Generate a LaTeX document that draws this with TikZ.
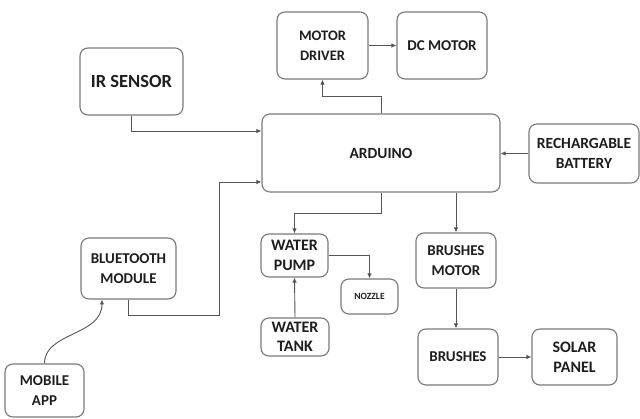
\documentclass[tikz,border=0pt]{standalone}
\usepackage{fontspec}
\setmainfont{Carlito}
\usetikzlibrary{arrows.meta}
\definecolor{boxline}{HTML}{7A7A7A}
\definecolor{wire}{HTML}{555555}
\definecolor{txt}{HTML}{1E1E1E}
\tikzset{
  blk/.style={draw=boxline, line width=1.1pt, rounded corners=8pt, fill=white,
    align=center, text=txt, inner sep=0pt,
    font=\bfseries\fontsize{15}{19.5}\selectfont},
  arr/.style={draw=wire, line width=0.9pt, -{Latex[length=5pt,width=4.5pt]}},
}
\begin{document}
\begin{tikzpicture}[x=1pt,y=-1pt]
\useasboundingbox (0,0) rectangle (640,419);
\fill[white] (0,0) rectangle (640,419);
\node[blk, minimum width=103pt, minimum height=67pt, font=\bfseries\fontsize{18.5}{22}\selectfont] (ir) at (131.5,81.5) {IR SENSOR};
\node[blk, minimum width=91pt, minimum height=67pt, font=\bfseries\fontsize{14.5}{20}\selectfont] (md) at (322.5,45.5) {MOTOR\\DRIVER};
\node[blk, minimum width=90pt, minimum height=67pt, font=\bfseries\fontsize{15}{20}\selectfont] (dc) at (442,45.5) {DC MOTOR};
\node[blk, minimum width=238pt, minimum height=78pt, font=\bfseries\fontsize{15.5}{20}\selectfont] (ard) at (381,153) {ARDUINO};
\node[blk, minimum width=110pt, minimum height=59pt, font=\bfseries\fontsize{15.5}{20}\selectfont] (bat) at (584,153.5) {RECHARGABLE\\BATTERY};
\node[blk, minimum width=95pt, minimum height=61pt, font=\bfseries\fontsize{15}{20}\selectfont] (bt) at (128.5,268.5) {BLUETOOTH\\MODULE};
\node[blk, minimum width=79pt, minimum height=53pt] (app) at (44.5,390.5) {MOBILE\\APP};
\node[blk, minimum width=67pt, minimum height=43pt, font=\bfseries\fontsize{16}{19.5}\selectfont] (pump) at (294.5,255.5) {WATER\\PUMP};
\node[blk, minimum width=68pt, minimum height=38pt, font=\bfseries\fontsize{16}{19.5}\selectfont] (tank) at (295,337) {WATER\\TANK};
\node[blk, minimum width=57pt, minimum height=35pt, font=\bfseries\fontsize{9.5}{12}\selectfont] (noz) at (369.5,296.5) {NOZZLE};
\node[blk, minimum width=80pt, minimum height=55pt] (bm) at (456,260.5) {BRUSHES\\MOTOR};
\node[blk, minimum width=80pt, minimum height=56pt] (br) at (458,357) {BRUSHES};
\node[blk, minimum width=85pt, minimum height=56pt, font=\bfseries\fontsize{16}{20}\selectfont] (sp) at (574.5,357) {SOLAR\\PANEL};

\draw[arr] (ir.south) |- ([yshift=22pt]ard.west);
\draw[arr] (bt.south) -- ++(0,16) -| (219,182) -- ([yshift=-29pt]ard.west);
\draw[arr] (ard.north) -- ++(0,-17) -| (md.south);
\draw[arr] (md.east) -- (dc.west);
\draw[arr] (bat.west) -- (ard.east |- bat.west);
\draw[arr] (ard.south) -- ++(0,21) -| (pump.north);
\draw[arr] (ard.south -| bm.north) -- (bm.north);
\draw[arr] (tank.north) -- (pump.south);
\draw[arr] (pump.east) -| (noz.north);
\draw[arr] (bm.south) -- (bm.south |- br.north);
\draw[arr] (br.east) -- (sp.west);
\draw[arr] (app.north) .. controls (44.5,332) and (102,336) .. (102,299.5);
\end{tikzpicture}
\end{document}
